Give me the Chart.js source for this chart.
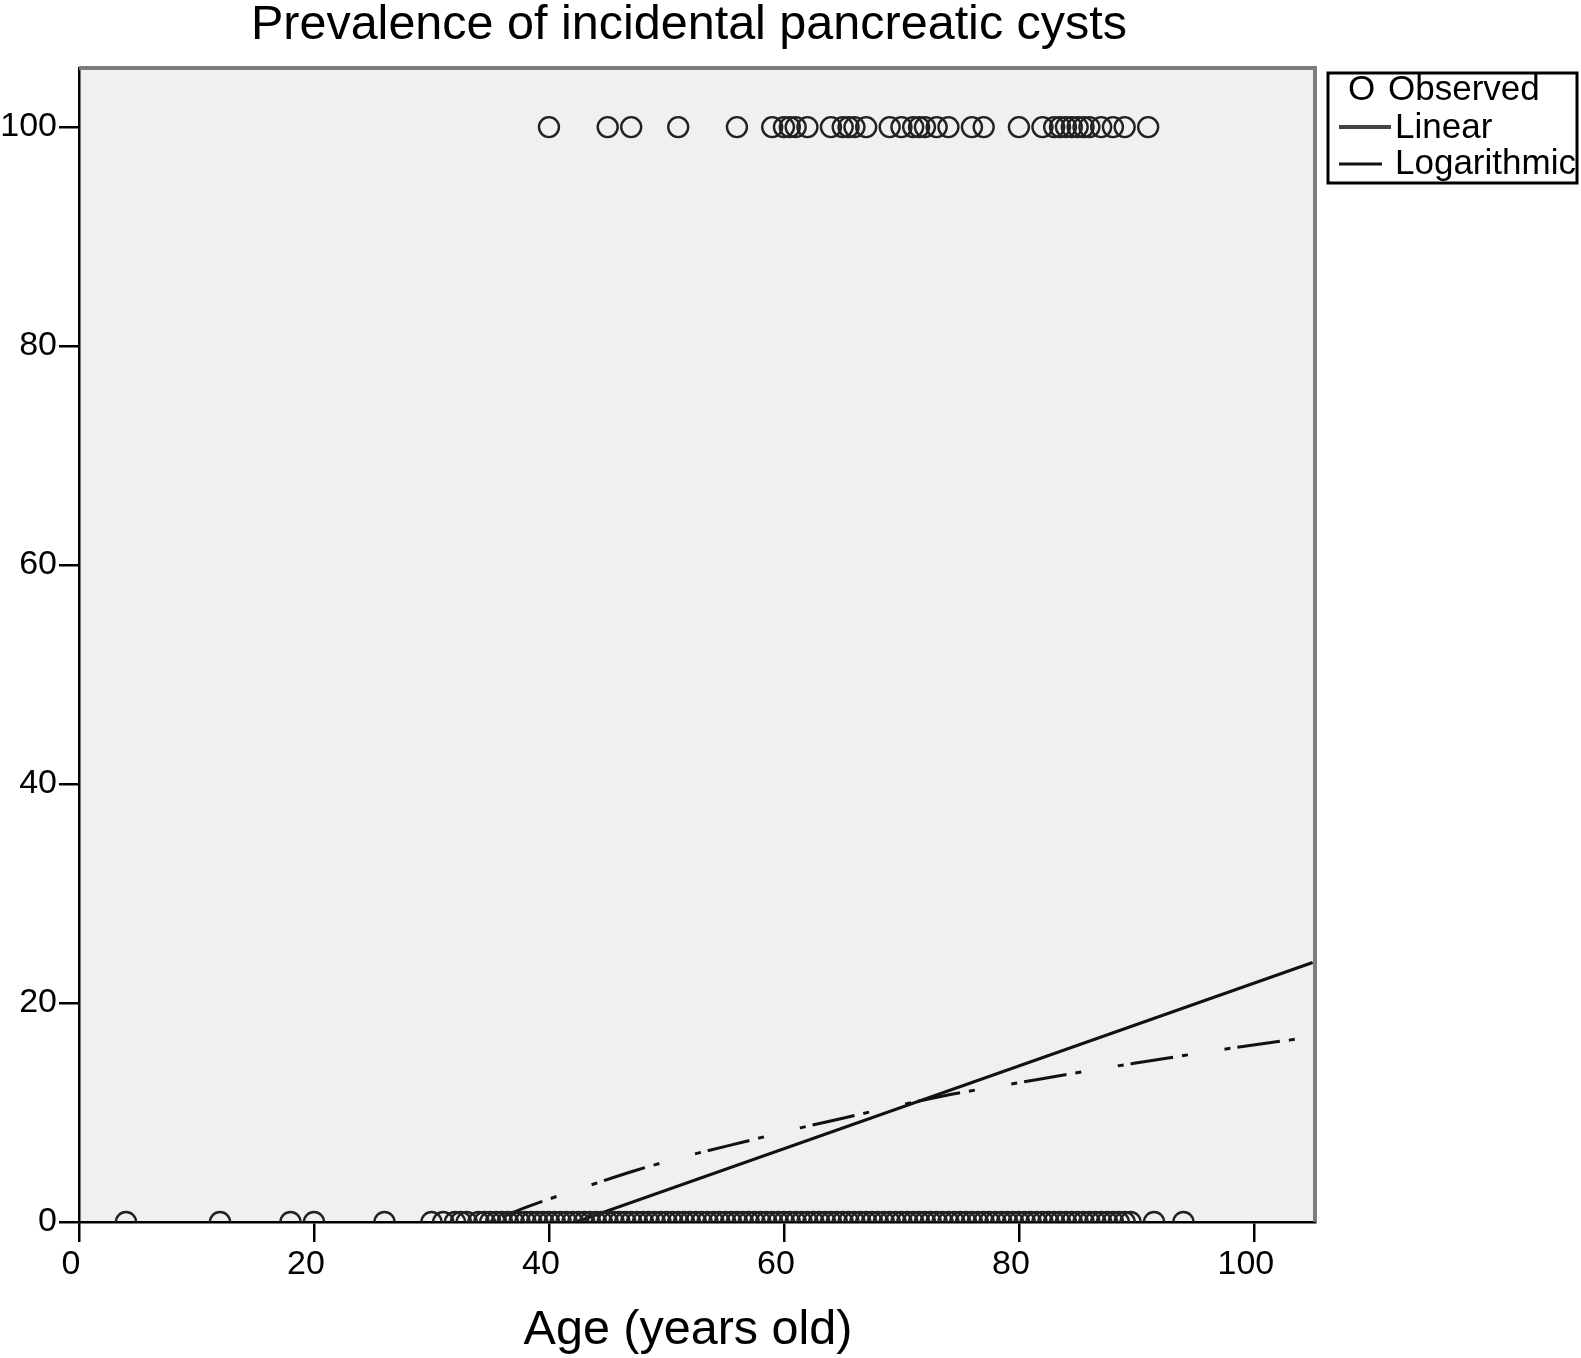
<!DOCTYPE html>
<html>
<head>
<meta charset="utf-8">
<script src="https://cdn.jsdelivr.net/npm/chart.js@4.4.1/dist/chart.umd.min.js"></script>
<style>
  html, body { margin: 0; padding: 0; background: #fff; }
  #wrap { width: 1581px; height: 1358px; position: relative; }
</style>
</head>
<body>
<div id="wrap"><canvas id="chart"></canvas></div>
<script>
/* ++++++++++ DATA ++++++++++ */
// ages of patients with a cyst (prevalence 100)
const agesWithCyst = [40, 45, 47, 51, 56, 59, 60, 60.5, 61, 62, 64, 65, 65.5, 66, 67,
  69, 70, 71, 71.5, 72, 73, 74, 76, 77, 80, 82, 83, 83.5, 84, 84.5, 85, 85.5, 86, 87, 88, 89, 91];
// ages of patients without a cyst (prevalence 0)
const agesWithoutCyst = [4, 12, 18, 20, 26, 30, 31, 32, 32.5, 33, 34, 34.5, 35, 35.5,
  36, 36.5, 37, 37.5, 38, 38.5, 39, 39.5, 40, 40.5, 41, 41.5, 42, 42.5, 43, 43.5,
  44, 44.5, 45, 45.5, 46, 46.5, 47, 47.5, 48, 48.5, 49, 49.5, 50, 50.5, 51, 51.5,
  52, 52.5, 53, 53.5, 54, 54.5, 55, 55.5, 56, 56.5, 57, 57.5, 58, 58.5, 59, 59.5,
  60, 60.5, 61, 61.5, 62, 62.5, 63, 63.5, 64, 64.5, 65, 65.5, 66, 66.5, 67, 67.5,
  68, 68.5, 69, 69.5, 70, 70.5, 71, 71.5, 72, 72.5, 73, 73.5, 74, 74.5, 75, 75.5,
  76, 76.5, 77, 77.5, 78, 78.5, 79, 79.5, 80, 80.5, 81, 81.5, 82, 82.5, 83, 83.5,
  84, 84.5, 85, 85.5, 86, 86.5, 87, 87.5, 88, 88.5, 89, 89.5, 91.5, 94];
// fitted curves
const linearAges = [42.3, 105];
const linearValues = [0, 23.7];
const logAges = [35, 38.2, 42.8, 47.5, 52, 56.9, 61.4, 65.1, 70, 75, 80.4, 85.3, 89.8, 94.6, 99.5, 105];
const logValues = [0, 1.4, 3.1, 4.75, 6.1, 7.4, 8.6, 9.5, 10.7, 11.8, 12.8, 13.7, 14.5, 15.3, 16.1, 16.9];
const xTicks = [0, 20, 40, 60, 80, 100];
const yTicks = [0, 20, 40, 60, 80, 100];
const legendLabels = ["Observed", "Linear", "Logarithmic"];
const chartTitle = "Prevalence of incidental pancreatic cysts";
const xTitle = "Age (years old)";

const FONT = '"Liberation Sans", Arial, Helvetica, sans-serif';

const observed = agesWithCyst.map(a => ({ x: a, y: 100 }))
  .concat(agesWithoutCyst.map(a => ({ x: a, y: 0 })));
const linear = linearAges.map((a, i) => ({ x: a, y: linearValues[i] }));
const logarithmic = logAges.map((a, i) => ({ x: a, y: logValues[i] }));

/* ++++++++++ PLUGINS ++++++++++ */
const plotFrame = {
  id: "plotFrame",
  beforeDraw(chart) {
    const { ctx, chartArea: a } = chart;
    ctx.save();
    ctx.fillStyle = "#f0f0f0";
    ctx.fillRect(a.left, a.top, a.right - a.left, a.bottom - a.top);
    ctx.restore();
  },
  afterDraw(chart) {
    const { ctx, chartArea: a } = chart;
    ctx.save();
    // grey frame on top and right
    ctx.strokeStyle = "#7c7c7c";
    ctx.lineWidth = 4;
    ctx.beginPath();
    ctx.moveTo(a.left, a.top);
    ctx.lineTo(a.right, a.top);
    ctx.lineTo(a.right, a.bottom);
    ctx.stroke();

    // titles
    ctx.fillStyle = "#000";
    ctx.textAlign = "center";
    ctx.textBaseline = "middle";
    ctx.font = "48.5px " + FONT;
    ctx.fillText(chartTitle, 689, 26);
    ctx.fillText(xTitle, 688, 1331);

    // legend box
    ctx.strokeStyle = "#000";
    ctx.lineWidth = 3;
    ctx.strokeRect(1328, 73, 249, 110);
    ctx.font = "35px " + FONT;
    ctx.textAlign = "left";
    ctx.fillText("O", 1348, 90);
    ctx.fillText(legendLabels[0], 1388, 90);

    ctx.strokeStyle = "#444";
    ctx.lineWidth = 4;
    ctx.beginPath();
    ctx.moveTo(1339, 127);
    ctx.lineTo(1391, 127);
    ctx.stroke();
    ctx.fillText(legendLabels[1], 1395, 128);

    ctx.strokeStyle = "#111";
    ctx.lineWidth = 3;
    ctx.beginPath();
    ctx.moveTo(1339, 164);
    ctx.lineTo(1382, 164);
    ctx.stroke();
    ctx.fillText(legendLabels[2], 1395, 164);
    ctx.restore();
  }
};

/* ++++++++++ CHART ++++++++++ */
const keepTicks = (list) => (scale) => {
  scale.ticks = list.map(v => ({ value: v }));
};

new Chart(document.getElementById("chart"), {
  type: "scatter",
  data: {
    datasets: [
      {
        label: legendLabels[0],
        data: observed,
        pointStyle: "circle",
        pointRadius: 10,
        pointBorderWidth: 2.4,
        pointBorderColor: "#222",
        pointBackgroundColor: "rgba(0,0,0,0)",
        clip: 0,
        order: 1
      },
      {
        type: "line",
        label: legendLabels[1],
        data: linear,
        borderColor: "#111",
        borderWidth: 3,
        pointRadius: 0,
        fill: false,
        clip: 0,
        order: 2
      },
      {
        type: "line",
        label: legendLabels[2],
        data: logarithmic,
        borderColor: "#111",
        borderWidth: 3,
        borderDash: [6, 7, 43, 9, 6, 37],
        cubicInterpolationMode: "monotone",
        pointRadius: 0,
        fill: false,
        clip: 0,
        order: 3
      }
    ]
  },
  options: {
    responsive: true,
    maintainAspectRatio: false,
    animation: false,
    devicePixelRatio: 1,
    layout: { padding: { top: 68, right: 266, bottom: 0, left: 0 } },
    plugins: {
      legend: { display: false },
      tooltip: { enabled: false },
      title: { display: false }
    },
    scales: {
      x: {
        type: "linear",
        min: 0,
        max: 105.2,
        afterBuildTicks: keepTicks(xTicks),
        afterFit(scale) { scale.height = 136; },
        border: { display: true, color: "#000", width: 2.5 },
        grid: { drawOnChartArea: false, drawTicks: true, tickLength: 20, color: "#000", lineWidth: 2.5 },
        ticks: { color: "#000", font: { family: FONT, size: 34 }, padding: 2, labelOffset: -8, maxRotation: 0 }
      },
      y: {
        type: "linear",
        min: 0,
        max: 105.4,
        afterBuildTicks: keepTicks(yTicks),
        afterFit(scale) { scale.width = 79; },
        border: { display: true, color: "#000", width: 2.5 },
        grid: { drawOnChartArea: false, drawTicks: true, tickLength: 20, color: "#000", lineWidth: 2.5 },
        ticks: { color: "#000", font: { family: FONT, size: 34 }, padding: 2 }
      }
    }
  },
  plugins: [plotFrame]
});
</script>
</body>
</html>
